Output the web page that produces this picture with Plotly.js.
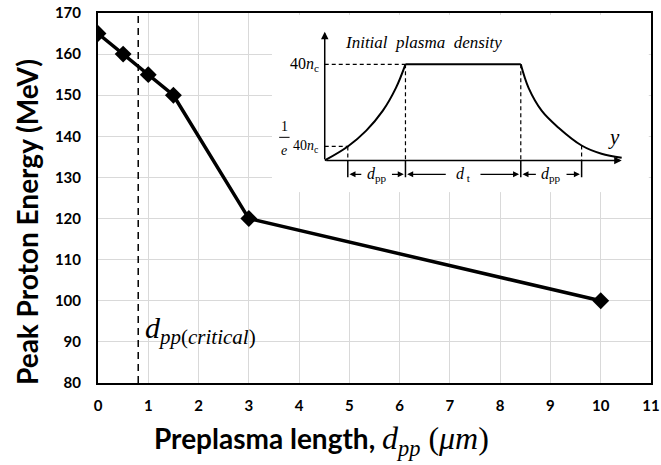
<!DOCTYPE html>
<html>
<head>
<meta charset="utf-8">
<script src="https://cdn.plot.ly/plotly-3.0.1.min.js"></script>
<style>html,body{margin:0;padding:0;background:#fff;}#chart{width:661px;height:465px;}</style>
</head>
<body>
<div id="chart"></div>
<script>
// ---- main data ----
const preplasmaLength = [0, 0.5, 1, 1.5, 3, 10];          // d_pp (um)
const peakEnergy      = [165, 160, 155, 150, 120, 100];    // MeV
const criticalLength  = 0.8;                               // d_pp(critical)
const xTicks = [0,1,2,3,4,5,6,7,8,9,10,11];
const yTicks = [80,90,100,110,120,130,140,150,160,170];

// ---- inset schematic (arbitrary units) ----
const riseX  = [0, 0.8, 1.44, 2.01, 2.47, 2.8];
const riseY  = [0, 5.8, 12.4, 20.6, 30.2, 40];
const plateauX = [2.8, 6.8];
const plateauY = [40, 40];
const fallX  = [6.8, 7.07, 7.53, 8.1, 8.91, 9.6, 10.3];
const fallY  = [40, 30.2, 20.6, 13.7, 6.2, 2.75, 1.1];
const peakLevel = 40;
const eLevel = 5.8;
const markX = [0.8, 2.8, 6.8, 8.91];      // boundaries of d_pp, d_t, d_pp
const markTop = [5.8, 40, 40, 6.2];
const axisTopY = 53.6, axisEndX = 10.3;
const dimY = -5.8, tickBottom = -7;
const dimLabels = ['<i>d</i><sub>pp</sub>', '<i>d</i><sub> t</sub>', '<i>d</i><sub>pp</sub>'];

const serif = 'Liberation Serif, Times New Roman, serif';
const sans = 'Lato, Carlito, Calibri, sans-serif';

const traces = [
  {x: preplasmaLength, y: peakEnergy, type: 'scatter', mode: 'lines+markers',
   line: {color: '#000', width: 3.5}, marker: {symbol: 'diamond', size: 13, color: '#000'},
   xaxis: 'x', yaxis: 'y', hoverinfo: 'skip'},
  {x: [criticalLength, criticalLength], y: [80, 170], type: 'scatter', mode: 'lines',
   line: {color: '#000', width: 1.5, dash: '7px,5px'}, xaxis: 'x', yaxis: 'y', cliponaxis: false, hoverinfo: 'skip'},
  {x: riseX, y: riseY, type: 'scatter', mode: 'lines', line: {color: '#000', width: 2, shape: 'spline'}, xaxis: 'x2', yaxis: 'y2'},
  {x: plateauX, y: plateauY, type: 'scatter', mode: 'lines', line: {color: '#000', width: 2}, xaxis: 'x2', yaxis: 'y2'},
  {x: fallX, y: fallY, type: 'scatter', mode: 'lines', line: {color: '#000', width: 2, shape: 'spline'}, xaxis: 'x2', yaxis: 'y2'}
];

const shapes = [];
const dashLine = {color: '#000', width: 1.2, dash: '4px,3px'};
shapes.push({type: 'line', xref: 'x2', yref: 'y2', x0: 0, x1: markX[1], y0: peakLevel, y1: peakLevel, line: dashLine});
shapes.push({type: 'line', xref: 'x2', yref: 'y2', x0: 0, x1: markX[0], y0: eLevel, y1: eLevel, line: dashLine});
markX.forEach((mx, i) => {
  shapes.push({type: 'line', xref: 'x2', yref: 'y2', x0: mx, x1: mx, y0: markTop[i], y1: 0, line: dashLine});
  shapes.push({type: 'line', xref: 'x2', yref: 'y2', x0: mx, x1: mx, y0: 0, y1: tickBottom, line: {color: '#000', width: 1.5}});
});
// fraction bar of 1/e
shapes.push({type: 'line', xref: 'x2', yref: 'y2', x0: -1.58, x1: -1.22, y0: 9.6, y1: 9.6, line: {color: '#000', width: 1}});

const ann = [];
ann.push({xref: 'x2', yref: 'y2', axref: 'x2', ayref: 'y2', x: 0, y: axisTopY, ax: 0, ay: 0, text: '', showarrow: true, arrowhead: 2, arrowsize: 1, arrowwidth: 1.5, arrowcolor: '#000'});
ann.push({xref: 'x2', yref: 'y2', axref: 'x2', ayref: 'y2', x: axisEndX, y: 0, ax: 0, ay: 0, text: '', showarrow: true, arrowhead: 2, arrowsize: 1, arrowwidth: 1.5, arrowcolor: '#000'});
for (let i = 0; i < 3; i++) {
  const a = markX[i], b = markX[i + 1], c = (a + b) / 2;
  const half = i === 1 ? 0.55 : 0.48;
  ann.push({xref: 'x2', yref: 'y2', axref: 'x2', ayref: 'y2', x: a + 0.06, y: dimY, ax: c - half, ay: dimY, text: '', showarrow: true, arrowhead: 2, arrowsize: 1, arrowwidth: 1.2, arrowcolor: '#000'});
  ann.push({xref: 'x2', yref: 'y2', axref: 'x2', ayref: 'y2', x: b - 0.06, y: dimY, ax: c + half, ay: dimY, text: '', showarrow: true, arrowhead: 2, arrowsize: 1, arrowwidth: 1.2, arrowcolor: '#000'});
  ann.push({xref: 'x2', yref: 'y2', x: c, y: dimY, text: dimLabels[i], showarrow: false, font: {family: serif, size: 16, color: '#000'}, yanchor: 'middle'});
}
ann.push({xref: 'x2', yref: 'y2', x: 3.43, y: 49.1, text: '<i>Initial  plasma  density</i>', showarrow: false, font: {family: serif, size: 17, color: '#000'}});
ann.push({xref: 'x2', yref: 'y2', x: -0.12, y: peakLevel, xanchor: 'right', text: '40<i>n</i><sub>c</sub>', showarrow: false, font: {family: serif, size: 16, color: '#000'}});
ann.push({xref: 'x2', yref: 'y2', x: -0.12, y: eLevel, xanchor: 'right', text: '40<i>n</i><sub>c</sub>', showarrow: false, font: {family: serif, size: 14, color: '#000'}});
ann.push({xref: 'x2', yref: 'y2', x: -1.4, y: 14.0, text: '1', showarrow: false, font: {family: serif, size: 14, color: '#000'}});
ann.push({xref: 'x2', yref: 'y2', x: -1.4, y: 4.0, text: '<i>e</i>', showarrow: false, font: {family: serif, size: 14, color: '#000'}});
ann.push({xref: 'x2', yref: 'y2', x: 10.05, y: 9.8, text: '<i>y</i>', showarrow: false, font: {family: serif, size: 21, color: '#000'}});
// critical label
ann.push({xref: 'x', yref: 'y', x: 0.9, y: 92.9, xanchor: 'left', yanchor: 'middle', showarrow: false,
  text: '<i>d</i><sub><i>pp</i><span style="font-style:normal">(</span><i>critical</i><span style="font-style:normal">)</span></sub>',
  font: {family: serif, size: 30, color: '#000'}});
// x-axis title
ann.push({xref: 'paper', yref: 'paper', x: (152 - 98) / 553, y: -0.155, xanchor: 'left', yanchor: 'middle', showarrow: false,
  text: '<b>Preplasma length, </b><span style="font-family:Liberation Serif;font-size:32px"><i>d</i><sub><i>pp</i></sub> (<i>μm</i>)</span>',
  font: {family: sans, size: 28, color: '#000'}});
// y-axis title
ann.push({xref: 'paper', yref: 'paper', x: (27 - 98) / 553, y: (383 - 222) / 370, xanchor: 'center', yanchor: 'middle', showarrow: false,
  textangle: -90, text: '<b>Peak Proton Energy (MeV)</b>', font: {family: sans, size: 28, color: '#000'}});

const tickFont = {family: sans, size: 15, color: '#000', weight: 'bold'};
const layout = {
  width: 661, height: 465,
  margin: {l: 98, r: 10, t: 13, b: 82},
  paper_bgcolor: '#fff', plot_bgcolor: '#fff',
  showlegend: false,
  xaxis: {range: [0, 11], tickvals: xTicks, ticktext: xTicks.map(String), showgrid: true, gridcolor: '#d9d9d9', gridwidth: 1,
          zeroline: false, showline: true, linecolor: '#000', linewidth: 2, mirror: true, ticks: '', tickfont: tickFont,
          ticklabelstandoff: 8, fixedrange: true},
  yaxis: {range: [80, 170], tickvals: yTicks, ticktext: yTicks.map(String), showgrid: true, gridcolor: '#d9d9d9', gridwidth: 1,
          zeroline: false, showline: true, linecolor: '#000', linewidth: 2, mirror: true, ticks: '', tickfont: tickFont,
          ticklabelstandoff: 12, fixedrange: true},
  xaxis2: {domain: [0.3146, 0.996], range: [-1.83, 11.24], visible: false, anchor: 'y2', fixedrange: true},
  yaxis2: {domain: [0.516, 0.995], range: [-13.2, 60.6], visible: false, anchor: 'x2', fixedrange: true},
  shapes: shapes,
  annotations: ann
};

Plotly.newPlot('chart', traces, layout, {staticPlot: true, displayModeBar: false});
</script>
</body>
</html>
